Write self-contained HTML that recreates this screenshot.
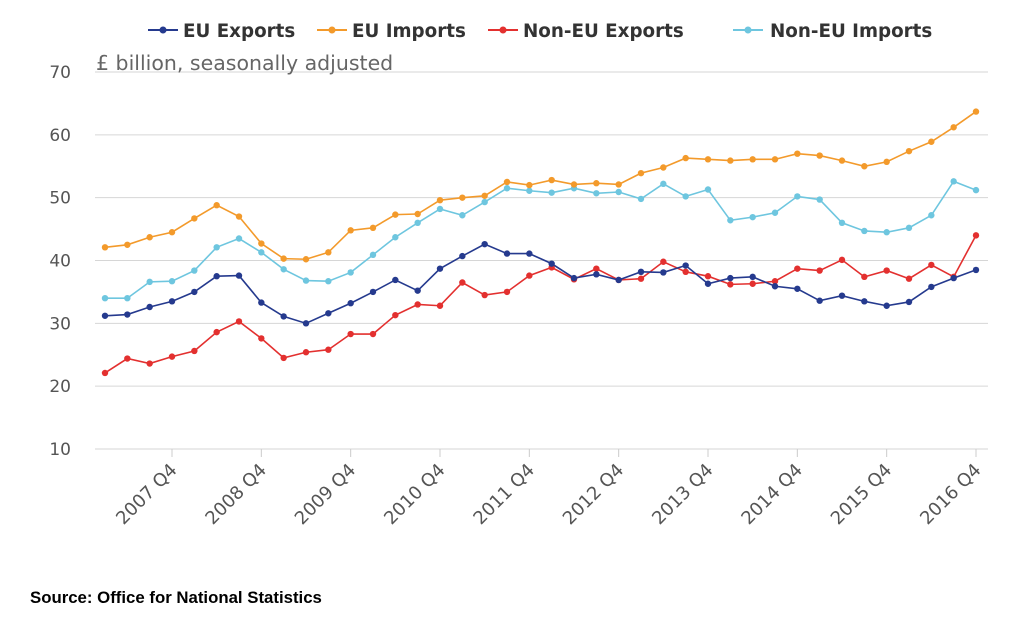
<!DOCTYPE html>
<html><head><meta charset="utf-8"><style>
body{margin:0;background:#fff;font-family:"DejaVu Sans",sans-serif}
</style></head><body>
<svg width="1011" height="615" xmlns="http://www.w3.org/2000/svg" id="chart"></svg>
<script>
const categories=[];for(let y=2007;y<=2016;y++)for(let q=1;q<=4;q++)categories.push(y+' Q'+q);
const euExports=[31.2,31.4,32.6,33.5,35,37.5,37.6,33.3,31.1,30,31.6,33.2,35,36.9,35.2,38.7,40.7,42.6,41.1,41.1,39.5,37.2,37.8,36.9,38.2,38.1,39.2,36.3,37.2,37.4,35.9,35.5,33.6,34.4,33.5,32.8,33.4,35.8,37.2,38.5];
const euImports=[42.1,42.5,43.7,44.5,46.7,48.8,47,42.7,40.3,40.2,41.3,44.8,45.2,47.3,47.4,49.6,50,50.3,52.5,52,52.8,52.1,52.3,52.1,53.9,54.8,56.3,56.1,55.9,56.1,56.1,57,56.7,55.9,55,55.7,57.4,58.9,61.2,63.7];
const nonEuExports=[22.1,24.4,23.6,24.7,25.6,28.6,30.3,27.6,24.5,25.4,25.8,28.3,28.3,31.3,33,32.8,36.5,34.5,35,37.6,38.9,37,38.7,36.9,37.1,39.8,38.2,37.5,36.2,36.3,36.7,38.7,38.4,40.1,37.4,38.4,37.1,39.3,37.4,44];
const nonEuImports=[34,34,36.6,36.7,38.4,42.1,43.5,41.3,38.6,36.8,36.7,38.1,40.9,43.7,46,48.2,47.2,49.3,51.5,51.1,50.8,51.5,50.7,50.9,49.8,52.2,50.2,51.3,46.4,46.9,47.6,50.2,49.7,46,44.7,44.5,45.2,47.2,52.6,51.2];
const yTicks=[10,20,30,40,50,60,70];
const xTickLabels=['2007 Q4','2008 Q4','2009 Q4','2010 Q4','2011 Q4','2012 Q4','2013 Q4','2014 Q4','2015 Q4','2016 Q4'];
const svg=document.getElementById('chart');const NS='http://www.w3.org/2000/svg';
const FF='"DejaVu Sans",sans-serif';
function mk(t,a,p){const e=document.createElementNS(NS,t);for(const k in a)e.setAttribute(k,a[k]);(p||svg).appendChild(e);return e;}
const x=i=>105+i*(976-105)/(categories.length-1);
const y=v=>449-(v-10)*(449-72)/60;
yTicks.forEach(v=>{
 const l=mk('line',{x1:95,x2:988,y1:y(v),y2:y(v),stroke:'#d6d6d6','stroke-width':1});
 
 
 const t=mk('text',{x:71,y:y(v)+6,'text-anchor':'end','font-size':17,fill:'#555','font-family':FF});t.textContent=v;
 
 
});
xTickLabels.forEach(lbl=>{
 const i=categories.indexOf(lbl);const xx=x(i);
 const tk=mk('line',{x1:xx,x2:xx,y1:449,y2:457,stroke:'#ccc'});
 
 
 const t=mk('text',{x:xx+6,y:471,'text-anchor':'end','font-size':18,fill:'#555','font-family':FF,transform:`rotate(-45 ${xx+6} 471)`});t.textContent=lbl;
 
 
});
const st=mk('text',{x:96,y:70,'font-size':20.5,fill:'#666','font-family':FF});st.textContent='£ billion, seasonally adjusted';


const series=[['eu-exports',euExports,'#253a8e'],['eu-imports',euImports,'#f39a2b'],['non-eu-exports',nonEuExports,'#e3302f'],['non-eu-imports',nonEuImports,'#6ec6df']];
[series[3],series[1],series[2],series[0]].forEach(([n,d,c])=>{
 const g=mk('g',{});
 const p=mk('polyline',{points:d.map((v,i)=>x(i)+','+y(v)).join(' '),fill:'none',stroke:c,'stroke-width':1.6},g);
 
 d.forEach((v,i)=>{const m=mk('circle',{cx:x(i),cy:y(v),r:3.2,fill:c},g);
  
  });
});
const leg=[['EU Exports',148,183,'#253a8e'],['EU Imports',317,352,'#f39a2b'],['Non-EU Exports',488,523,'#e3302f'],['Non-EU Imports',733,770,'#6ec6df']];
leg.forEach(([t,lx,tx,c])=>{
 const g=mk('g',{});
 mk('line',{x1:lx,x2:lx+30,y1:30,y2:30,stroke:c,'stroke-width':2},g);
 mk('circle',{cx:lx+15,cy:30,r:3.5,fill:c},g);
 const tt=mk('text',{x:tx,y:37,'font-size':18.3,'font-weight':'bold',fill:'#333','font-family':FF},g);tt.textContent=t;
});
const src=mk('text',{x:30,y:603,'font-size':16.8,'font-weight':'bold',fill:'#000','font-family':'"Liberation Sans",sans-serif'});src.textContent='Source: Office for National Statistics';


</script>
</body></html>
